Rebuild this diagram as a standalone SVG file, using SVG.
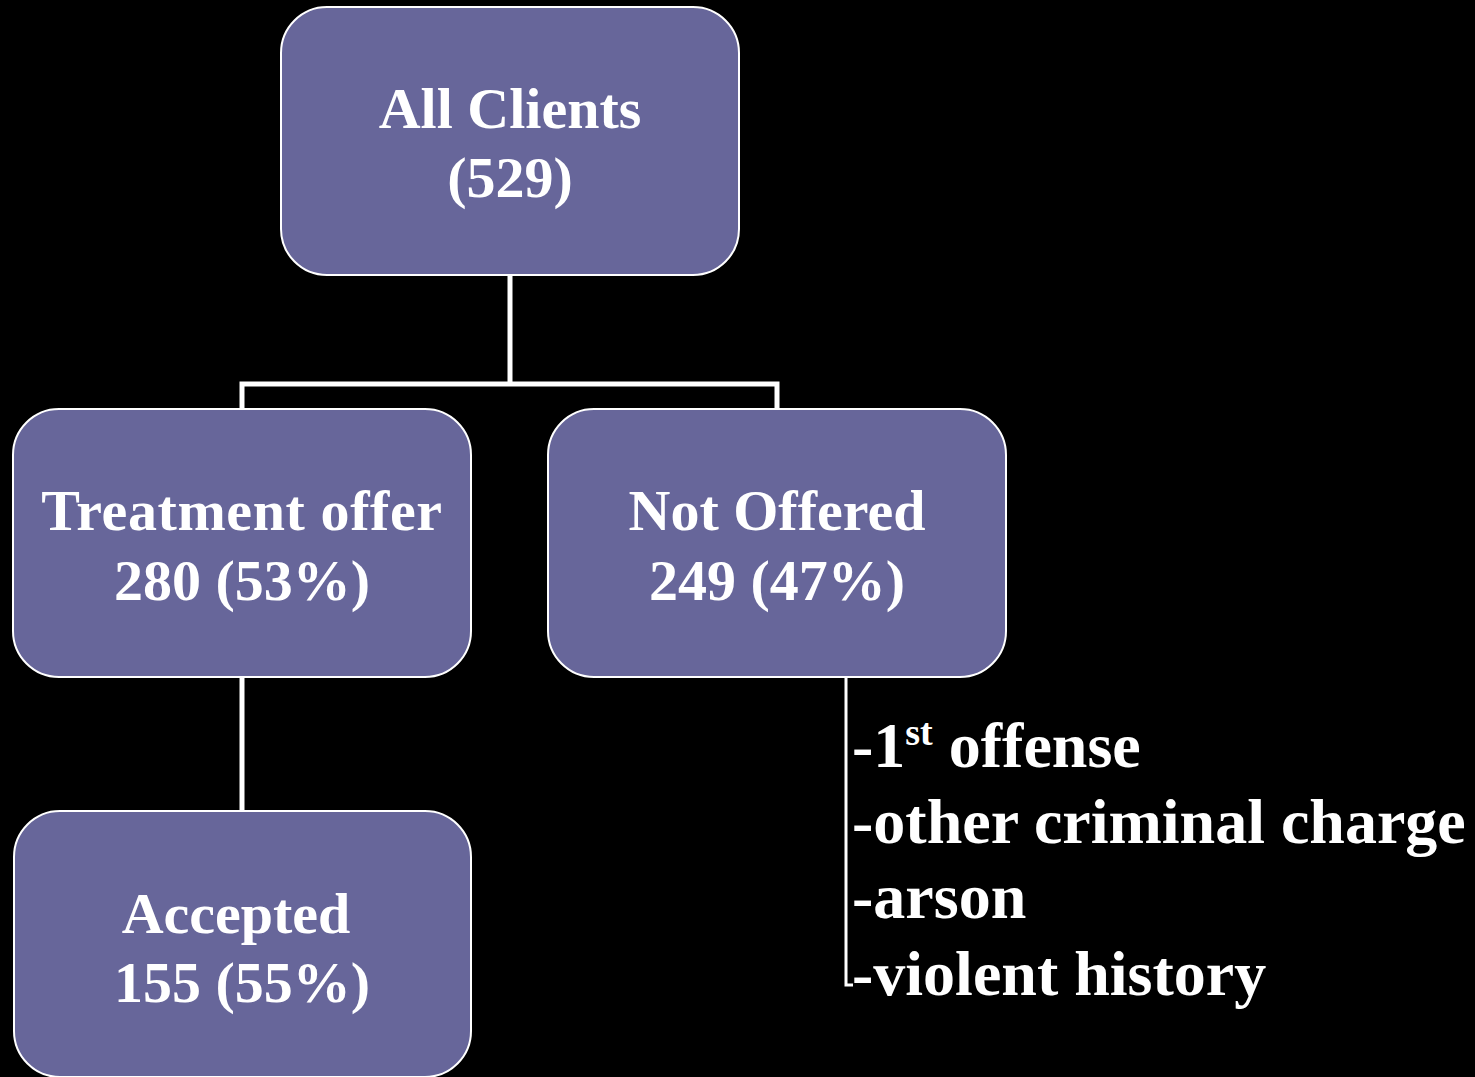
<svg xmlns="http://www.w3.org/2000/svg" width="1475" height="1077" viewBox="0 0 1475 1077">
<style>
.box{fill:#67669a;stroke:#ffffff;stroke-width:2}
.lbl{font-family:"Liberation Serif","Times New Roman",serif;font-weight:bold;font-size:58px;fill:#ffffff;text-anchor:middle}
.lst{font-family:"Liberation Serif","Times New Roman",serif;font-weight:bold;font-size:64px;fill:#ffffff}
.con{fill:none;stroke:#ffffff;stroke-width:5}
</style>
<rect width="1475" height="1077" fill="#000000"/>
<g id="connectors">
<path class="con" d="M510 275 V384"/>
<path class="con" d="M242 409 V384 H777 V409"/>
<path class="con" d="M242 677 V811"/>
<path class="con" d="M846 677 V985 H853" style="stroke-width:3"/>
</g>
<g id="all-clients">
<rect class="box" x="281" y="7" width="458" height="268" rx="46"/>
<text class="lbl" x="510" y="128">All Clients</text>
<text class="lbl" x="510" y="197">(529)</text>
</g>
<g id="treatment-offer">
<rect class="box" x="13" y="409" width="458" height="268" rx="46"/>
<text class="lbl" x="242" y="530" letter-spacing="0.6">Treatment offer</text>
<text class="lbl" x="242" y="600">280 (53%)</text>
</g>
<g id="not-offered">
<rect class="box" x="548" y="409" width="458" height="268" rx="46"/>
<text class="lbl" x="777" y="530">Not Offered</text>
<text class="lbl" x="777" y="600">249 (47%)</text>
</g>
<g id="accepted">
<rect class="box" x="14" y="811" width="457" height="266" rx="46"/>
<text class="lbl" x="236" y="933">Accepted</text>
<text class="lbl" x="242" y="1002">155 (55%)</text>
</g>
<g id="reasons">
<text class="lst" x="852" y="767">-1<tspan font-size="38" dy="-22">st</tspan><tspan dy="22"> offense</tspan></text>
<text class="lst" x="852" y="843">-other criminal charge</text>
<text class="lst" x="852" y="918">-arson</text>
<text class="lst" x="852" y="995">-violent history</text>
</g>
</svg>
